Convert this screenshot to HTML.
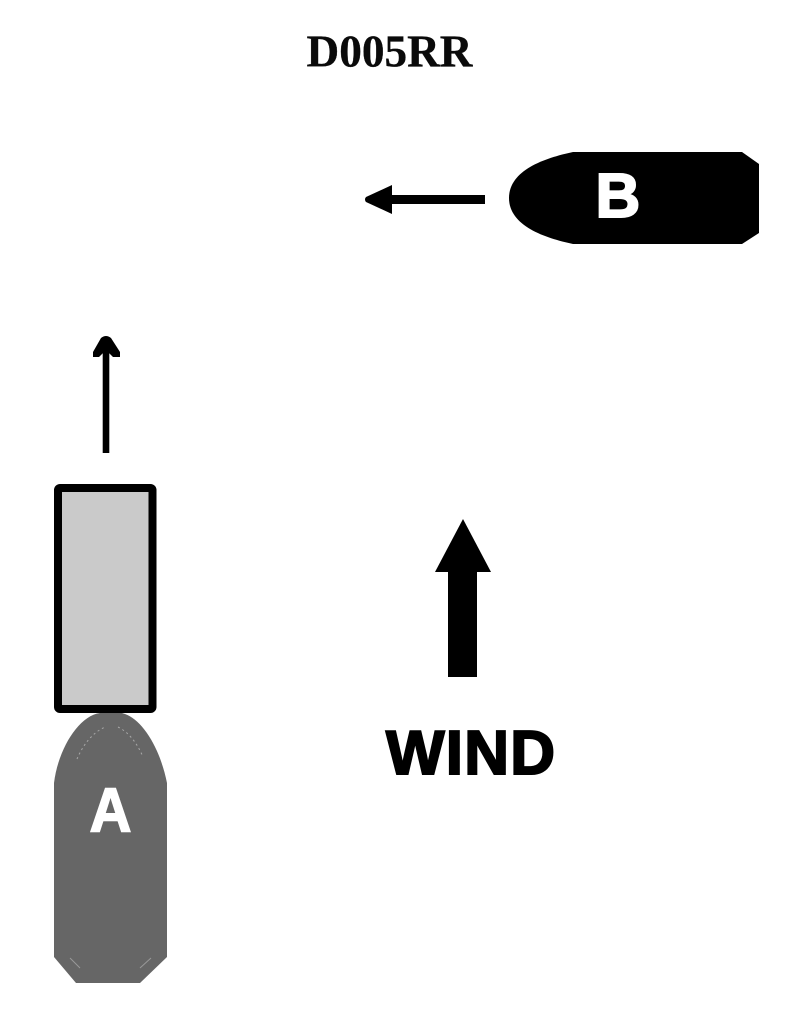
<!DOCTYPE html>
<html>
<head>
<meta charset="utf-8">
<style>
html,body{margin:0;padding:0;background:#fff;width:800px;height:1028px;overflow:hidden}
svg{display:block}
</style>
</head>
<body>
<svg width="800" height="1028" viewBox="0 0 800 1028" xmlns="http://www.w3.org/2000/svg">
<rect width="800" height="1028" fill="#fff"/>
<text x="306.500" y="66.500" font-family="'Liberation Serif',serif" font-weight="700" font-size="45" textLength="166" lengthAdjust="spacingAndGlyphs" fill="#0a0a0a" stroke="#0a0a0a" stroke-width="0.3">D005RR</text>

<!-- Boat B -->
<path d="M573 152 L742 152 L759 164 L759 233 L742 244 L573 244 C545 238 509 226 509 198 C509 170 545 158 573 152 Z" fill="#000"/>
<text x="595.500" y="217" font-family="'Liberation Sans',sans-serif" font-weight="700" font-size="62" fill="#fff" stroke="#fff" stroke-width="2">B</text>

<!-- Arrow left -->
<rect x="385" y="195" width="100" height="9" fill="#000"/>
<path d="M366 197 L392 185 L392 214 L366 202 Q364 199.500 366 197 Z" fill="#000"/>

<!-- Arrow up -->
<rect x="102.700" y="346" width="6.600" height="107" fill="#000"/>
<path d="M101 338 Q106 334 111 338 L120 352 L120 357 L113 357 L106 350 L99 357 L93 357 L93 352 Z" fill="#000"/>

<!-- Grey rectangle -->
<rect x="58" y="488" width="94.500" height="221" rx="2" fill="#cacaca" stroke="#000" stroke-width="8"/>

<!-- Boat A -->
<path d="M100 713 L122 713 C142 718 160 748 167 783 L167 957 L140 983 L76 983 L54 957 L54 783 C58 750 78 716 100 713 Z" fill="#666"/>
<path d="M77 759 C83 745 92 733 105 727 M118 727 C130 733 138 745 143 757" fill="none" stroke="#a8a8a8" stroke-width="1" stroke-dasharray="2 3"/>
<path d="M70 958 L80 968 M140 968 L151 958" fill="none" stroke="#999" stroke-width="1"/>
<text x="89.500" y="831.500" font-family="'Liberation Sans',sans-serif" font-weight="700" font-size="62" textLength="42" lengthAdjust="spacingAndGlyphs" fill="#fff" stroke="#fff" stroke-width="1.500">A</text>

<!-- Wind arrow -->
<rect x="448" y="565" width="29" height="112" fill="#000"/>
<path d="M463 519 L491 572 L435 572 Z" fill="#000"/>
<text x="386" y="774" font-family="'Liberation Sans',sans-serif" font-weight="700" font-size="62" textLength="169" lengthAdjust="spacing" fill="#000" stroke="#000" stroke-width="2">WIND</text>
</svg>
</body>
</html>
